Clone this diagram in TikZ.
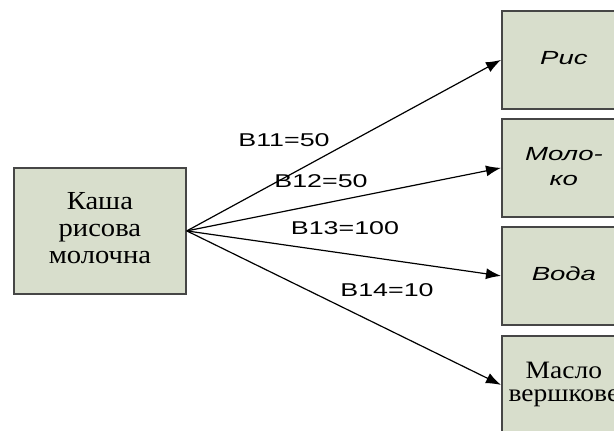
\documentclass[tikz,border=0pt]{standalone}
\usepackage{graphicx}
\usepackage{fontspec}
\setmainfont{Liberation Serif}
\setsansfont{Liberation Sans}
\usetikzlibrary{arrows.meta}
\definecolor{boxfill}{RGB}{216,222,204}
\definecolor{boxline}{RGB}{70,70,70}
% widened multi-line text: \widetext{x-factor}{lines}
\newcommand{\widetext}[2]{\scalebox{#1}[1]{\begin{tabular}{@{}c@{}}#2\end{tabular}}}
\begin{document}
\begin{tikzpicture}[x=1pt,y=-1pt,
  item/.style={draw=boxline,line width=1.8pt,fill=boxfill,inner sep=0pt,
    minimum width=124pt,minimum height=98pt,anchor=north west,align=center},
  dish/.style={draw=boxline,line width=1.8pt,fill=boxfill,inner sep=0pt,
    minimum width=172pt,minimum height=126pt,anchor=north west,align=center,
    font=\fontsize{26}{27}\selectfont},
  ingr/.style={font=\sffamily\itshape\fontsize{19}{25}\selectfont},
  ingrserif/.style={font=\fontsize{25}{23}\selectfont},
  flow/.style={line width=1.2pt,-{Latex[length=15pt,width=11pt]}},
  weight/.style={font=\sffamily\fontsize{18.5}{22}\selectfont,inner sep=0pt}]
\useasboundingbox (0,0) rectangle (614,431);
\fill[white] (0,0) rectangle (614,431);

\node[dish] (dish) at (13,167) {\widetext{1.1}{Каша\\рисова\\молочна}};

\node[item,ingr] (rice) at (501,10) {\widetext{1.45}{Рис}};
\node[item,ingr] (milk) at (501,118) {\widetext{1.45}{Моло-\\ко}};
\node[item,ingr] (water) at (501,226) {\raisebox{-8pt}{\widetext{1.45}{Вода}}};
\node[item,ingrserif] (butter) at (501,335) {\raisebox{10pt}{\widetext{1.1}{Масло\\вершкове}}};

\draw[flow] (dish.east) -- (rice.west);
\draw[flow] (dish.east) -- (milk.west);
\draw[flow] (dish.east) -- (water.west);
\draw[flow] (dish.east) -- (butter.west);

\node[weight] (w1) at (284,142) {\widetext{1.45}{B11=50}};
\node[weight] (w2) at (321,183) {\widetext{1.45}{B12=50}};
\node[weight] (w3) at (345,230) {\widetext{1.45}{B13=100}};
\node[weight] (w4) at (387,292) {\widetext{1.45}{B14=10}};
\end{tikzpicture}
\end{document}
